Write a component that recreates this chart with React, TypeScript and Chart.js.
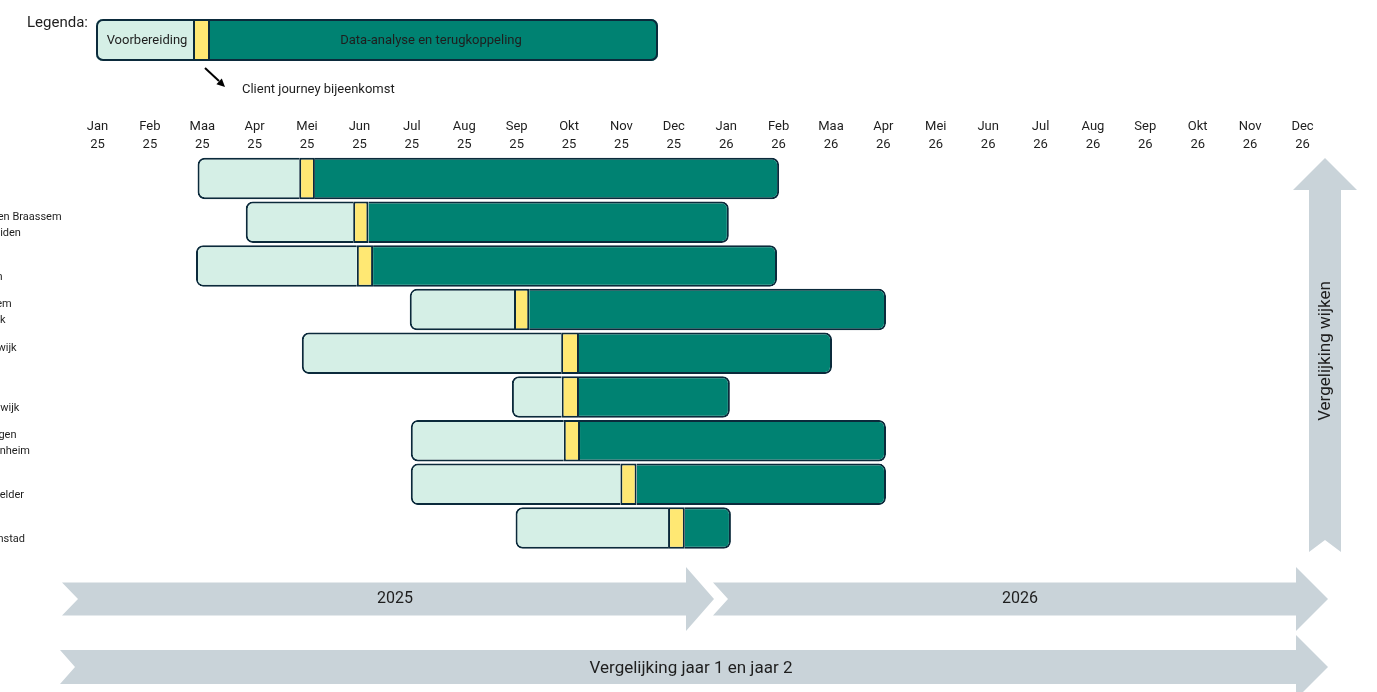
import React, { useEffect, useRef } from 'react';
import { Chart, registerables } from 'chart.js';

Chart.register(...registerables);

// ---------- data ----------
const monthLabels = [
  'Jan', 'Feb', 'Maa', 'Apr', 'Mei', 'Jun', 'Jul', 'Aug', 'Sep', 'Okt', 'Nov', 'Dec',
  'Jan', 'Feb', 'Maa', 'Apr', 'Mei', 'Jun', 'Jul', 'Aug', 'Sep', 'Okt', 'Nov', 'Dec',
];
const yearLabels = [
  '25', '25', '25', '25', '25', '25', '25', '25', '25', '25', '25', '25',
  '26', '26', '26', '26', '26', '26', '26', '26', '26', '26', '26', '26',
];
const rowLabels: string[][] = [
  ['Delft'],
  ['Kaag en Braassem', 'Leimuiden'],
  ['Ede', 'Leiden'],
  ['Haarlem', 'Katwijk'],
  ['Beverwijk', 'Lisse'],
  ['Oss', 'Noordwijk'],
  ['Teylingen', 'Sassenheim'],
  ['Texel', 'Den Helder'],
  ['Urk', 'Binnenstad'],
];
// positions in months (0 = Jan 25)
const prepStart = [1.91, 2.83, 1.88, 5.96, 3.9, 7.91, 5.98, 5.98, 7.98];
const meetStart = [3.85, 4.88, 4.95, 7.95, 8.85, 8.86, 8.9, 9.98, 10.89];
const meetEnd = [4.15, 5.17, 5.26, 8.24, 9.19, 9.19, 9.21, 10.29, 11.21];
const analysisEnd = [13.01, 12.05, 12.97, 15.05, 14.02, 12.07, 15.05, 15.05, 12.09];

const legendTitle = 'Legenda:';
const legendPrep = 'Voorbereiding';
const legendAnalysis = 'Data-analyse en terugkoppeling';
const legendMeeting = 'Client journey bijeenkomst';
const year1Label = '2025';
const year2Label = '2026';
const compareYearsLabel = 'Vergelijking jaar 1 en jaar 2';
const compareRowsLabel = 'Vergelijking wijken';

// ---------- styling ----------
const VIEW_W = 1377;
const VIEW_H = 692;
const LEFT_CUT = 30;
const CANVAS_W = VIEW_W + LEFT_CUT;

const LIGHT = '#d5efe6';
const YELLOW = '#ffe873';
const TEAL = '#008272';
const EDGE = '#0b2a3b';
const ARROW = '#c9d3d9';
const TEXT = '#1e1e1e';
const SANS = 'Roboto, "Noto Sans", sans-serif';

function roundRectPath(ctx: CanvasRenderingContext2D, x: number, y: number, w: number, h: number, r: number) {
  ctx.beginPath();
  ctx.moveTo(x + r, y);
  ctx.lineTo(x + w - r, y);
  ctx.arcTo(x + w, y, x + w, y + r, r);
  ctx.lineTo(x + w, y + h - r);
  ctx.arcTo(x + w, y + h, x + w - r, y + h, r);
  ctx.lineTo(x + r, y + h);
  ctx.arcTo(x, y + h, x, y + h - r, r);
  ctx.lineTo(x, y + r);
  ctx.arcTo(x, y, x + r, y, r);
  ctx.closePath();
}

function hArrow(ctx: CanvasRenderingContext2D, x0: number, notch: number, yMid: number, bodyHalf: number, headBack: number, headHalf: number, tip: number) {
  ctx.beginPath();
  ctx.moveTo(x0, yMid - bodyHalf);
  ctx.lineTo(headBack, yMid - bodyHalf);
  ctx.lineTo(headBack, yMid - headHalf);
  ctx.lineTo(tip, yMid);
  ctx.lineTo(headBack, yMid + headHalf);
  ctx.lineTo(headBack, yMid + bodyHalf);
  ctx.lineTo(x0, yMid + bodyHalf);
  ctx.lineTo(x0 + notch, yMid);
  ctx.closePath();
  ctx.fillStyle = ARROW;
  ctx.fill();
}

function vArrow(ctx: CanvasRenderingContext2D, xMid: number, bottom: number, notch: number, bodyHalf: number, headBack: number, headHalf: number, tip: number) {
  ctx.beginPath();
  ctx.moveTo(xMid - bodyHalf, bottom);
  ctx.lineTo(xMid, bottom - notch);
  ctx.lineTo(xMid + bodyHalf, bottom);
  ctx.lineTo(xMid + bodyHalf, headBack);
  ctx.lineTo(xMid + headHalf, headBack);
  ctx.lineTo(xMid, tip);
  ctx.lineTo(xMid - headHalf, headBack);
  ctx.lineTo(xMid - bodyHalf, headBack);
  ctx.closePath();
  ctx.fillStyle = ARROW;
  ctx.fill();
}

const decorPlugin = {
  id: 'decor',
  afterDraw(chart: any) {
    const ctx: CanvasRenderingContext2D = chart.ctx;
    ctx.save();
    ctx.translate(LEFT_CUT, 0);

    // legend
    ctx.fillStyle = TEXT;
    ctx.font = `15px ${SANS}`;
    ctx.textAlign = 'left';
    ctx.textBaseline = 'middle';
    ctx.fillText(legendTitle, 27, 23);

    const lx = 96, ly = 19, lw = 562, lh = 42, r = 7;
    const split1 = 194, split2 = 209;
    ctx.save();
    roundRectPath(ctx, lx, ly, lw, lh, r);
    ctx.fillStyle = TEAL;
    ctx.fill();
    ctx.clip();
    ctx.fillStyle = LIGHT;
    ctx.fillRect(lx, ly, split1 - lx, lh);
    ctx.fillStyle = YELLOW;
    ctx.fillRect(split1, ly, split2 - split1, lh);
    ctx.restore();
    ctx.strokeStyle = EDGE;
    ctx.lineWidth = 2;
    ctx.beginPath();
    ctx.moveTo(split1, ly);
    ctx.lineTo(split1, ly + lh);
    ctx.moveTo(split2, ly);
    ctx.lineTo(split2, ly + lh);
    ctx.stroke();
    roundRectPath(ctx, lx + 1, ly + 1, lw - 2, lh - 2, r - 1);
    ctx.stroke();

    ctx.fillStyle = TEXT;
    ctx.font = `13px ${SANS}`;
    ctx.textAlign = 'center';
    ctx.fillText(legendPrep, (lx + split1) / 2 + 2, ly + lh / 2 + 1);
    ctx.fillText(legendAnalysis, 431, ly + lh / 2 + 1);

    // pointer arrow
    ctx.strokeStyle = '#000';
    ctx.fillStyle = '#000';
    ctx.lineWidth = 2;
    ctx.beginPath();
    ctx.moveTo(205, 68);
    ctx.lineTo(219, 81);
    ctx.stroke();
    const ang = Math.atan2(18, 19);
    const tx = 225, ty = 87;
    ctx.beginPath();
    ctx.moveTo(tx, ty);
    ctx.lineTo(tx - 9 * Math.cos(ang - 0.45), ty - 9 * Math.sin(ang - 0.45));
    ctx.lineTo(tx - 9 * Math.cos(ang + 0.45), ty - 9 * Math.sin(ang + 0.45));
    ctx.closePath();
    ctx.fill();
    ctx.fillStyle = TEXT;
    ctx.textAlign = 'left';
    ctx.fillText(legendMeeting, 242, 90);

    // timeline arrows
    hArrow(ctx, 62, 16, 599, 16.5, 686, 32, 714);
    hArrow(ctx, 713, 15, 599, 16.5, 1296, 32, 1328);
    hArrow(ctx, 60, 15, 667, 17, 1296, 32, 1328);
    vArrow(ctx, 1325, 552, 12, 16, 190, 32, 158);

    ctx.fillStyle = TEXT;
    ctx.textAlign = 'center';
    ctx.font = `16px ${SANS}`;
    ctx.fillText(year1Label, 395, 599);
    ctx.fillText(year2Label, 1020, 599);
    ctx.font = `17px ${SANS}`;
    ctx.fillText(compareYearsLabel, 691, 669);
    ctx.save();
    ctx.translate(1326, 351);
    ctx.rotate(-Math.PI / 2);
    ctx.fillText(compareRowsLabel, 0, 0);
    ctx.restore();

    ctx.restore();
  },
};

export default function App() {
  const ref = useRef<HTMLCanvasElement>(null);

  useEffect(() => {
    const canvas = ref.current;
    if (!canvas) return;

    const barCommon = {
      borderColor: EDGE,
      borderSkipped: false,
      grouped: false,
      barPercentage: 0.95,
      categoryPercentage: 1,
    };

    const chart = new Chart(canvas, {
      type: 'bar',
      data: {
        labels: rowLabels as any,
        datasets: [
          {
            ...barCommon,
            label: legendPrep,
            data: rowLabels.map((_, i) => [prepStart[i], meetStart[i]]) as any,
            backgroundColor: LIGHT,
            borderWidth: { top: 2, bottom: 2, left: 2, right: 0 },
            borderRadius: { topLeft: 7, bottomLeft: 7, topRight: 0, bottomRight: 0 },
          } as any,
          {
            ...barCommon,
            label: legendMeeting,
            data: rowLabels.map((_, i) => [meetStart[i], meetEnd[i]]) as any,
            backgroundColor: YELLOW,
            borderWidth: 2,
            borderRadius: 0,
          } as any,
          {
            ...barCommon,
            label: legendAnalysis,
            data: rowLabels.map((_, i) => [meetEnd[i], analysisEnd[i]]) as any,
            backgroundColor: TEAL,
            borderWidth: { top: 2, bottom: 2, left: 0, right: 2 },
            borderRadius: { topLeft: 0, bottomLeft: 0, topRight: 7, bottomRight: 7 },
          } as any,
        ],
      },
      options: {
        indexAxis: 'y',
        responsive: false,
        animation: false,
        devicePixelRatio: 1,
        layout: { padding: { left: 0, top: 0, right: 48.3, bottom: 142.1 } },
        plugins: {
          legend: { display: false },
          tooltip: { enabled: false },
        },
        scales: {
          x: {
            type: 'linear',
            position: 'top',
            min: -0.5,
            max: 23.5,
            grid: { display: false, drawTicks: false },
            border: { display: false },
            afterBuildTicks: (s: any) => {
              s.ticks = monthLabels.map((_, i) => ({ value: i }));
            },
            afterFit: (s: any) => {
              s.height = 156.7;
            },
            ticks: {
              autoSkip: false,
              maxRotation: 0,
              minRotation: 0,
              padding: 3,
              color: TEXT,
              font: { family: SANS, size: 13, lineHeight: 18 / 13 },
              callback: (_v: any, i: number) => [monthLabels[i], yearLabels[i]],
            },
          },
          y: {
            grid: { display: false, drawTicks: false },
            border: { display: false },
            afterFit: (s: any) => {
              s.width = LEFT_CUT + 71.3;
            },
            ticks: {
              autoSkip: false,
              crossAlign: 'far',
              padding: 0,
              labelOffset: 3,
              color: TEXT,
              font: { family: SANS, size: 11, lineHeight: 16 / 11 },
            },
          },
        },
      } as any,
      plugins: [decorPlugin],
    });

    return () => chart.destroy();
  }, []);

  return (
    <div
      style={{
        position: 'fixed',
        left: 0,
        top: 0,
        width: VIEW_W,
        height: VIEW_H,
        overflow: 'hidden',
        background: '#fff',
      }}
    >
      <canvas
        ref={ref}
        width={CANVAS_W}
        height={VIEW_H}
        style={{ position: 'absolute', left: -LEFT_CUT, top: 0, width: CANVAS_W, height: VIEW_H }}
      />
    </div>
  );
}
